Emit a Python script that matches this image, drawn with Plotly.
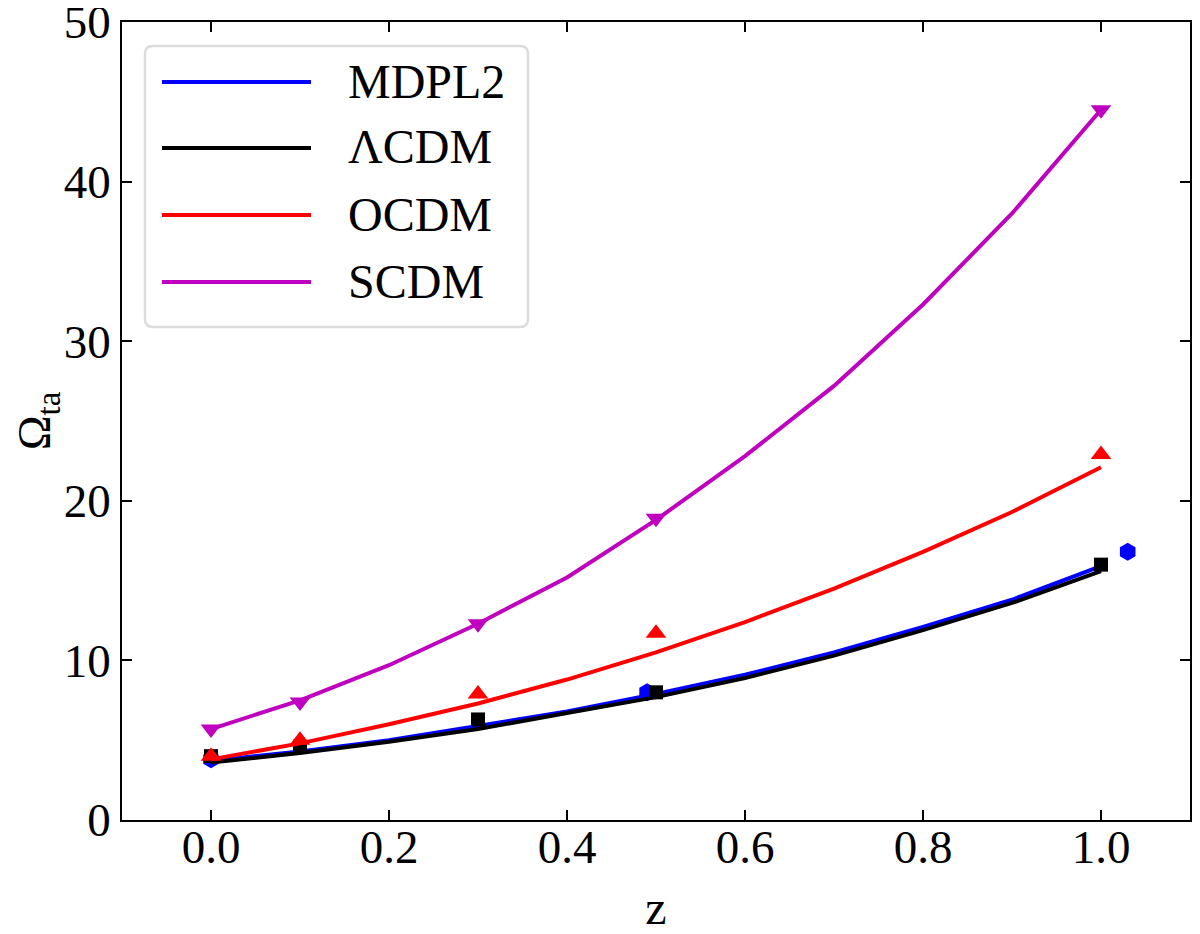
import plotly.graph_objects as go

# model curves (z grid)
z_grid = [0.0, 0.1, 0.2, 0.3, 0.4, 0.5, 0.6, 0.7, 0.8, 0.9, 1.0]
mdpl2_line = [3.7, 4.3, 5.0, 5.9, 6.8, 7.9, 9.1, 10.5, 12.1, 13.8, 15.9]
lcdm_line = [3.6, 4.2, 4.9, 5.7, 6.7, 7.7, 8.9, 10.3, 11.9, 13.6, 15.6]
ocdm_line = [3.8, 4.8, 6.0, 7.3, 8.8, 10.5, 12.4, 14.5, 16.8, 19.3, 22.1]
scdm_line = [5.7, 7.5, 9.7, 12.3, 15.2, 18.8, 22.8, 27.2, 32.3, 38.0, 44.5]

# simulation points
mdpl2_z = [0.0, 0.49, 1.03]
mdpl2_pts = [3.8, 8.0, 16.8]
lcdm_z = [0.0, 0.1, 0.3, 0.5, 1.0]
lcdm_pts = [4.0, 4.6, 6.3, 8.0, 16.0]
ocdm_z = [0.0, 0.1, 0.3, 0.5, 1.0]
ocdm_pts = [4.0, 5.0, 7.9, 11.7, 22.9]
scdm_z = [0.0, 0.1, 0.3, 0.5, 1.0]
scdm_pts = [5.7, 7.4, 12.3, 18.9, 44.5]

x_ticks = [0.0, 0.2, 0.4, 0.6, 0.8, 1.0]
x_ticklabels = ["0.0", "0.2", "0.4", "0.6", "0.8", "1.0"]
y_ticks = [0, 10, 20, 30, 40, 50]

names = ["MDPL2", "ΛCDM", "OCDM", "SCDM"]
colors = ["#0000ff", "#000000", "#ff0000", "#bf00bf"]
symbols = ["hexagon", "square", "triangle-up", "triangle-down"]
msizes = [18, 14, 18, 18]

lines = [mdpl2_line, lcdm_line, ocdm_line, scdm_line]
pts_z = [mdpl2_z, lcdm_z, ocdm_z, scdm_z]
pts_v = [mdpl2_pts, lcdm_pts, ocdm_pts, scdm_pts]

OFF = 8  # page body margin
W, H = 1200 - OFF, 934 - OFF
L, R, T, B = 122 - OFF, 10, 22 - OFF, 114
pw, ph = W - L - R, H - T - B


def px(x):  # screen px -> paper
    return (x - OFF - L) / pw


def py(y):
    return (H - B - (y - OFF)) / ph


fig = go.Figure()
for name, col, sym, ms, ln, pz, pv in zip(names, colors, symbols, msizes, lines, pts_z, pts_v):
    fig.add_trace(go.Scatter(x=pz, y=pv, mode="markers", showlegend=False,
                             marker=dict(color=col, symbol=sym, size=ms, line=dict(width=0))))
    fig.add_trace(go.Scatter(x=z_grid, y=ln, mode="lines", name=name, showlegend=False,
                             line=dict(color=col, width=4)))

font = "Liberation Serif, DejaVu Serif, serif"
axis_common = dict(showline=True, linecolor="black", linewidth=1.6, mirror="ticks",
                   ticks="inside", ticklen=10, tickwidth=1.6, tickcolor="black",
                   showgrid=False, zeroline=False, automargin=False,
                   ticklabeloverflow="allow",
                   tickfont=dict(size=47, family=font, color="black"))
fig.update_xaxes(range=[-0.1, 1.1], tickvals=x_ticks, ticktext=x_ticklabels,
                 ticklabelstandoff=-15,
                 title=dict(text="z", font=dict(size=48, family=font, color="black"), standoff=20),
                 **axis_common)
fig.update_yaxes(range=[0, 50], tickvals=y_ticks, ticklabelstandoff=0,
                 title=dict(text="Ω<sub>ta</sub>", font=dict(size=47, family=font, color="black"), standoff=20),
                 **axis_common)

# legend box (rounded)
x0, x1, y0, y1 = px(145), px(528), py(327), py(46)
rx, ry = 8 / pw, 8 / ph
path = (f"M {x0+rx},{y1} L {x1-rx},{y1} Q {x1},{y1} {x1},{y1-ry} "
        f"L {x1},{y0+ry} Q {x1},{y0} {x1-rx},{y0} L {x0+rx},{y0} "
        f"Q {x0},{y0} {x0},{y0+ry} L {x0},{y1-ry} Q {x0},{y1} {x0+rx},{y1} Z")
shapes = [dict(type="path", path=path, xref="paper", yref="paper",
               fillcolor="white", line=dict(color="#dcdcdc", width=2.5), layer="above")]
annotations = []
leg_y = [82, 148, 215, 282]
for name, col, yy in zip(names, colors, leg_y):
    shapes.append(dict(type="line", xref="paper", yref="paper", x0=px(162), x1=px(311),
                       y0=py(yy), y1=py(yy), line=dict(color=col, width=4), layer="above"))
    annotations.append(dict(text=name, xref="paper", yref="paper", x=px(346), y=py(yy - 1),
                            xanchor="left", yanchor="middle", showarrow=False,
                            font=dict(size=48, family=font, color="black")))

fig.update_layout(
    width=W, height=H,
    margin=dict(l=L, r=R, t=T, b=B),
    plot_bgcolor="white", paper_bgcolor="white",
    shapes=shapes, annotations=annotations, showlegend=False,
)
fig.write_html("out.html")
